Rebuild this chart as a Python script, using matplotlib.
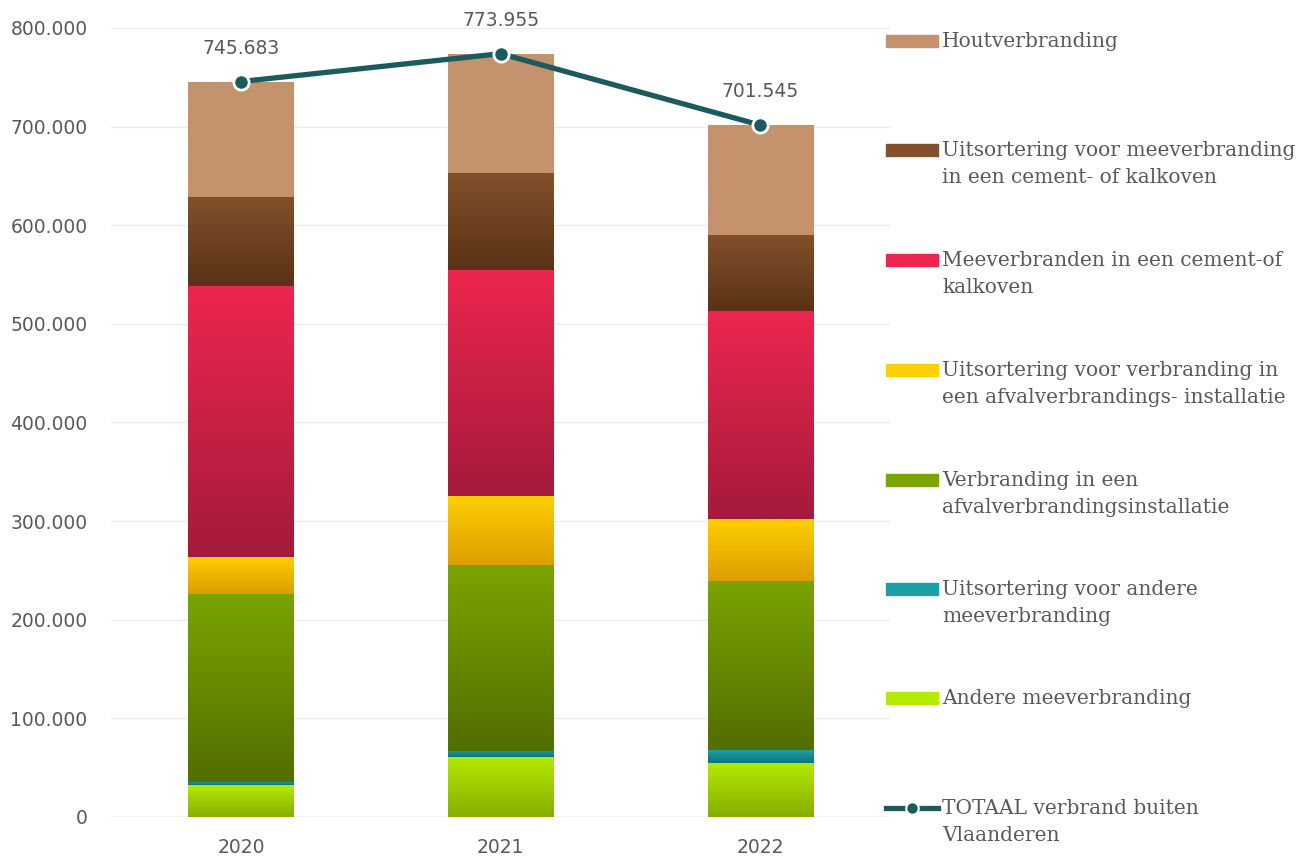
import numpy as np
import matplotlib
matplotlib.use('Agg')
import matplotlib.pyplot as plt
from matplotlib.colors import to_rgb
from matplotlib.patches import Rectangle
from matplotlib.lines import Line2D

jaren = ['2020', '2021', '2022']

# waarden in ton, van onder naar boven gestapeld
andere = [32400, 60800, 54800]
uits_andere = [3100, 6100, 13100]
verbranding = [190500, 188600, 171400]
uits_verbranding = [37600, 70000, 62900]
meeverbranden = [274800, 229200, 210800]
uits_mee = [90300, 98300, 77000]
hout = [117000, 121000, 111500]
totaal = [745683, 773955, 701545]

reeksen = [andere, uits_andere, verbranding, uits_verbranding, meeverbranden, uits_mee, hout]
namen = ['Andere meeverbranding',
         'Uitsortering voor andere\nmeeverbranding',
         'Verbranding in een\nafvalverbrandingsinstallatie',
         'Uitsortering voor verbranding in\neen afvalverbrandings- installatie',
         'Meeverbranden in een cement-of\nkalkoven',
         'Uitsortering voor meeverbranding\nin een cement- of kalkoven',
         'Houtverbranding']
# (boven, onder) kleur voor verloop
kleuren = [('#b4ea00', '#86ad00'),
           ('#1ba0a8', '#0f7378'),
           ('#7aa400', '#526e00'),
           ('#ffcf00', '#dc9e00'),
           ('#ec2650', '#a51a3b'),
           ('#82502a', '#5a3216'),
           ('#c4936d', '#c4936d')]

grijs = '#595959'
lijnkleur = '#1b5b5c'


def verloop(c1, c2, n=64):
    t = np.linspace(0, 1, n)[:, None]
    return ((1 - t) * np.array(to_rgb(c1)) + t * np.array(to_rgb(c2))).reshape(n, 1, 3)


fig = plt.figure(figsize=(13.11, 8.58), dpi=100)
ax = fig.add_axes([0.0847, 0.0478, 0.5943, 0.9196])

x = np.arange(len(jaren))
breedte = 0.405
onder = np.zeros(len(jaren))
for waarden, (c1, c2) in zip(reeksen, kleuren):
    bars = ax.bar(x, waarden, breedte, bottom=onder, color=c1, linewidth=0, zorder=2)
    grad = verloop(c1, c2)
    for b in bars:
        x0, y0 = b.get_x(), b.get_y()
        im = ax.imshow(grad, extent=[x0, x0 + b.get_width(), y0, y0 + b.get_height()],
                       aspect='auto', origin='upper', interpolation='bilinear', zorder=2)
        im.set_clip_path(b)
    onder += np.array(waarden)

ax.plot(x, totaal, color=lijnkleur, lw=3.8, marker='o', ms=11,
        markerfacecolor=lijnkleur, markeredgecolor='white', markeredgewidth=2, zorder=5)
for xi, t in zip(x, totaal):
    ax.annotate(f'{t:,}'.replace(',', '.'), (xi, t), xytext=(0, 17), textcoords='offset points',
                ha='center', va='bottom', fontsize=13.5, color=grijs)

ax.set_xlim(-0.5, 2.5)
ax.set_ylim(0, 800000)
ax.set_xticks(x)
ax.set_xticklabels(jaren)
ax.set_yticks(range(0, 800001, 100000))
ax.set_yticklabels([f'{v:,}'.replace(',', '.') for v in range(0, 800001, 100000)])
ax.tick_params(axis='both', length=0, labelsize=13.5, colors=grijs)
ax.tick_params(axis='y', pad=17)
ax.tick_params(axis='x', pad=15)
ax.grid(axis='y', color='#ececec', lw=1, zorder=0)
ax.set_axisbelow(True)
for s in ax.spines.values():
    s.set_visible(False)
ax.axhline(0, color='#d9d9d9', lw=1, zorder=1)

# legenda aan de rechterkant
leg_y = [41, 150, 260, 370, 480, 589, 698]
leg_items = list(zip(namen, kleuren))[::-1]
for i, (naam, (c1, c2)) in enumerate(leg_items):
    fy = 1 - leg_y[i] / 858
    rect = Rectangle((886 / 1311, fy - 6 / 858), 52 / 1311, 12 / 858,
                     transform=fig.transFigure, color=c1, zorder=3)
    fig.patches.append(rect)
    fig.text(942 / 1311, fy + 9 / 858, naam, ha='left', va='top', fontsize=14.5, color=grijs,
             family='DejaVu Serif', linespacing=1.55)

fy = 1 - 808 / 858
fig.lines.append(Line2D([886 / 1311, 938 / 1311], [fy, fy], transform=fig.transFigure,
                        color=lijnkleur, lw=3.8))
fig.lines.append(Line2D([912 / 1311], [fy], transform=fig.transFigure, color=lijnkleur,
                        marker='o', ms=9, markeredgecolor='white', markeredgewidth=1.5, lw=0))
fig.text(942 / 1311, fy + 9 / 858, 'TOTAAL verbrand buiten\nVlaanderen', ha='left', va='top',
         fontsize=14.5, color=grijs, family='DejaVu Serif', linespacing=1.55)

fig.savefig('out.png', dpi=100)
